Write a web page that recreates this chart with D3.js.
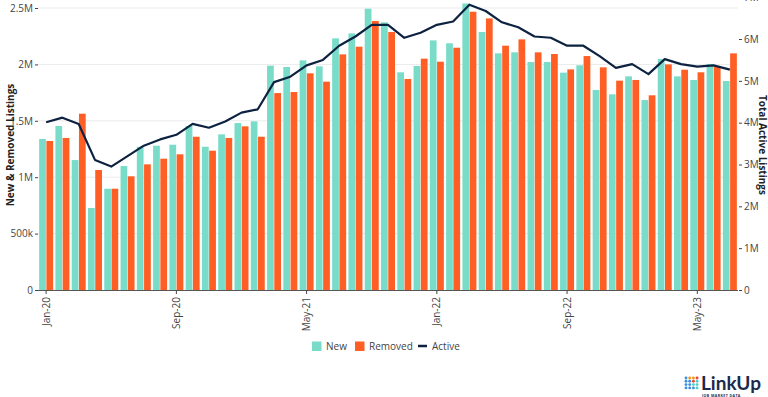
<!DOCTYPE html>
<html>
<head>
<meta charset="utf-8">
<script src="https://cdn.jsdelivr.net/npm/d3@7"></script>
<style>
  html, body { margin: 0; padding: 0; background: #fff; }
  svg { display: block; font-family: "Open Sans", sans-serif; }
</style>
</head>
<body>
<svg id="chart" width="768" height="397"></svg>
<script>
const months = ["Jan-20","Feb-20","Mar-20","Apr-20","May-20","Jun-20","Jul-20","Aug-20","Sep-20","Oct-20","Nov-20","Dec-20",
  "Jan-21","Feb-21","Mar-21","Apr-21","May-21","Jun-21","Jul-21","Aug-21","Sep-21","Oct-21","Nov-21","Dec-21",
  "Jan-22","Feb-22","Mar-22","Apr-22","May-22","Jun-22","Jul-22","Aug-22","Sep-22","Oct-22","Nov-22","Dec-22",
  "Jan-23","Feb-23","Mar-23","Apr-23","May-23","Jun-23","Jul-23"];

const newListings = [1339000,1454000,1152000,727000,898000,1099000,1270000,1279000,1288000,1454000,1270000,1380000,
  1480000,1495000,1989000,1977000,2036000,1983000,2231000,2275000,2494000,2373000,1930000,1986000,
  2213000,2187000,2540000,2287000,2098000,2107000,2021000,2021000,1927000,1992000,1773000,1735000,
  1894000,1684000,2048000,1894000,1862000,2004000,1853000];

const removedListings = [1321000,1348000,1563000,1064000,898000,1008000,1114000,1164000,1203000,1359000,1235000,1348000,
  1451000,1359000,1746000,1755000,1921000,1847000,2089000,2157000,2385000,2287000,1871000,2051000,
  2024000,2148000,2467000,2408000,2166000,2222000,2107000,2092000,1956000,2074000,1974000,1856000,
  1862000,1726000,2000000,1953000,1930000,1980000,2098000];

const activeListings = [4010000,4120000,3970000,3110000,2950000,3200000,3450000,3600000,3710000,3970000,3880000,4030000,
  4240000,4320000,4970000,5100000,5370000,5500000,5840000,6060000,6340000,6340000,6030000,6150000,
  6340000,6420000,6820000,6670000,6400000,6280000,6060000,6030000,5840000,5840000,5590000,5310000,
  5400000,5160000,5520000,5400000,5340000,5370000,5270000];

const xTickLabels = ["Jan-20","Sep-20","May-21","Jan-22","Sep-22","May-23"];
const leftTicks = [0, 500000, 1000000, 1500000, 2000000, 2500000];
const leftTickLabels = ["0","500k","1M","1.5M","2M","2.5M"];
const rightTicks = [0,1000000,2000000,3000000,4000000,5000000,6000000,7000000];
const rightTickLabels = ["0","1M","2M","3M","4M","5M","6M","7M"];
const seriesNames = ["New","Removed","Active"];

const COLORS = { New: "#79dcc9", Removed: "#ff5f24", Active: "#0d2240" };

const svg = d3.select("#chart");
const plot = { left: 38, right: 738, top: 0, bottom: 290 };

const x = d3.scaleBand().domain(months).range([plot.left, plot.right]).paddingInner(0.14).paddingOuter(0.07);
const xSub = d3.scaleBand().domain(["New","Removed"]).range([0, x.bandwidth()]).paddingInner(0.07);
const yL = d3.scaleLinear().domain([0, 2571000]).range([plot.bottom, plot.top]);
const yR = d3.scaleLinear().domain([0, 6933000]).range([plot.bottom, plot.top]);

// gridlines
svg.append("g").selectAll("line").data(leftTicks.slice(1)).join("line")
  .attr("x1", plot.left).attr("x2", plot.right)
  .attr("y1", d => yL(d)).attr("y2", d => yL(d))
  .attr("stroke", "#ebebeb").attr("stroke-width", 1);

// bars
const rows = months.map((m, i) => ({ m, New: newListings[i], Removed: removedListings[i], Active: activeListings[i] }));
const groups = svg.append("g").selectAll("g").data(rows).join("g")
  .attr("transform", d => `translate(${x(d.m)},0)`);
groups.selectAll("rect").data(d => ["New","Removed"].map(k => ({ k, v: d[k] }))).join("rect")
  .attr("x", d => xSub(d.k))
  .attr("width", xSub.bandwidth())
  .attr("y", d => yL(d.v))
  .attr("height", d => yL(0) - yL(d.v))
  .attr("fill", d => COLORS[d.k]);

// active line
const line = d3.line().x(d => x(d.m) + x.bandwidth() / 2).y(d => yR(d.Active));
svg.append("path").datum(rows).attr("d", line)
  .attr("fill", "none").attr("stroke", COLORS.Active).attr("stroke-width", 2.2)
  .attr("stroke-linejoin", "round");

// axes
const axisStyle = g => {
  g.selectAll("text").attr("fill", "#444").style("font-size", "10px").style("font-family", "Open Sans, sans-serif");
  g.selectAll(".tick line").attr("stroke", "#444");
};

const leftAxis = d3.axisLeft(yL).tickValues(leftTicks).tickFormat((d, i) => leftTickLabels[i]).tickSize(3).tickPadding(2);
svg.append("g").attr("transform", `translate(${plot.left},0)`).call(leftAxis)
  .call(g => g.select(".domain").remove()).call(axisStyle);

const rightAxis = d3.axisRight(yR).tickValues(rightTicks).tickFormat((d, i) => rightTickLabels[i]).tickSize(3).tickPadding(2);
svg.append("g").attr("transform", `translate(${plot.right + 1},0)`).call(rightAxis)
  .call(g => g.select(".domain").remove()).call(axisStyle);

const bottomAxis = d3.axisBottom(x).tickValues(xTickLabels).tickSize(4).tickPadding(2);
const bx = svg.append("g").attr("transform", `translate(0,${plot.bottom})`).call(bottomAxis);
bx.select(".domain").attr("stroke", "#555").attr("d", `M${plot.left},0.5H${plot.right}`);
bx.call(axisStyle);
bx.selectAll(".tick text")
  .attr("transform", "rotate(-90)")
  .attr("text-anchor", "end")
  .attr("x", -7).attr("y", 0).attr("dy", "0.35em");

// axis titles
svg.append("text").attr("transform", `translate(10,${(plot.top + plot.bottom) / 2}) rotate(-90)`)
  .attr("text-anchor", "middle").attr("dy", "0.35em")
  .style("font-size", "10px").style("font-weight", "bold").attr("fill", "#222")
  .text("New & Removed Listings");
svg.append("text").attr("transform", `translate(762,${(plot.top + plot.bottom) / 2}) rotate(90)`)
  .attr("text-anchor", "middle").attr("dy", "0.35em")
  .style("font-size", "10px").style("font-weight", "bold").attr("fill", "#222")
  .text("Total Active Listings");

// legend
const legend = svg.append("g").attr("transform", "translate(312,346)");
const legendX = [0, 43, 106];
seriesNames.forEach((name, i) => {
  const g = legend.append("g").attr("transform", `translate(${legendX[i]},0)`);
  if (name === "Active") {
    g.append("line").attr("x1", 0).attr("x2", 9).attr("y1", 0).attr("y2", 0)
      .attr("stroke", COLORS[name]).attr("stroke-width", 2.5);
  } else {
    g.append("rect").attr("x", 0).attr("y", -4.5).attr("width", 9.5).attr("height", 9.5).attr("fill", COLORS[name]);
  }
  g.append("text").attr("x", 14).attr("dy", "0.35em")
    .style("font-size", "10px").attr("fill", "#444").text(name);
});

// LinkUp logo
const logo = svg.append("g").attr("transform", "translate(684,376)");
const dotColors = [
  ["#3b8fe0","#f7941d","#f7941d","#e8463a"],
  ["#3b8fe0","#3b8fe0","#e8463a","#4fd1c5"],
  ["#3b8fe0","#3b8fe0","#4fd1c5","#4fd1c5"],
  ["#3b8fe0","#3b8fe0","#3b8fe0","#4fd1c5"]
];
dotColors.forEach((row, r) => row.forEach((c, k) => {
  logo.append("circle").attr("cx", 2 + k * 3.7).attr("cy", 2 + r * 3.3).attr("r", 1.45).attr("fill", c);
}));
logo.append("text").attr("x", 17).attr("y", 14)
  .style("font-size", "19px").style("font-weight", "bold").style("font-family", "Lato, 'Open Sans', sans-serif")
  .attr("fill", "#1b2a4a").text("LinkUp");
logo.append("text").attr("x", 18).attr("y", 20.5)
  .style("font-size", "3.6px").style("font-weight", "bold").attr("fill", "#1b2a4a")
  .attr("letter-spacing", "0.4").text("JOB MARKET DATA");
</script>
</body>
</html>
